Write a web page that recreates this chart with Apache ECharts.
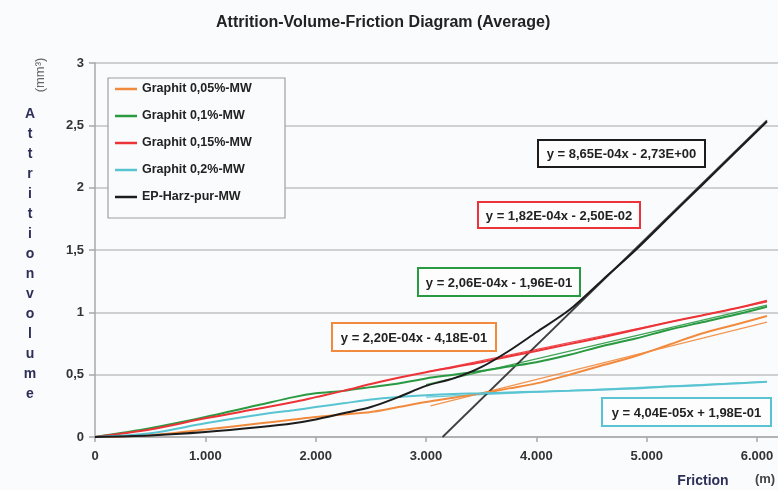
<!DOCTYPE html>
<html>
<head>
<meta charset="utf-8">
<script src="https://cdn.jsdelivr.net/npm/echarts@6/dist/echarts.min.js"></script>
<style>html,body{margin:0;padding:0;background:#fafbfc;}#chart{width:778px;height:490px;}</style>
</head>
<body>
<div id="chart"></div>
<script>
// ---- data ----
const frictionX = [0, 500, 1000, 1500, 1800, 2000, 2250, 2500, 2750, 3000, 3250, 3500, 3750, 4000, 4300, 4600, 4900, 5200, 5500, 5800, 6090];
const graphit005 = [0, 0.015, 0.06, 0.11, 0.14, 0.16, 0.18, 0.20, 0.24, 0.28, 0.315, 0.35, 0.39, 0.43, 0.50, 0.575, 0.65, 0.74, 0.83, 0.90, 0.97];
const graphit01  = [0, 0.07, 0.16, 0.26, 0.32, 0.35, 0.37, 0.40, 0.43, 0.47, 0.50, 0.53, 0.565, 0.60, 0.66, 0.73, 0.79, 0.86, 0.92, 0.98, 1.045];
const graphit015 = [0, 0.06, 0.15, 0.23, 0.28, 0.32, 0.37, 0.425, 0.475, 0.52, 0.56, 0.60, 0.645, 0.69, 0.745, 0.80, 0.86, 0.92, 0.975, 1.03, 1.093];
const graphit02  = [0, 0.03, 0.11, 0.18, 0.215, 0.24, 0.27, 0.30, 0.32, 0.335, 0.345, 0.35, 0.357, 0.363, 0.37, 0.38, 0.39, 0.405, 0.415, 0.43, 0.444];
const epHarz     = [0, 0.012, 0.04, 0.08, 0.11, 0.14, 0.19, 0.24, 0.32, 0.41, 0.47, 0.56, 0.69, 0.84, 1.02, 1.26, 1.50, 1.76, 2.02, 2.28, 2.53];

const trendX005 = [3040, 6090], trendY005 = [0.25, 0.922];
const trendX01  = [3000, 6090], trendY01  = [0.42, 1.058];
const trendX015 = [3000, 6090], trendY015 = [0.52, 1.083];
const trendX02  = [3000, 6090], trendY02  = [0.32, 0.444];
const trendXEP  = [3150, 6090], trendYEP  = [0, 2.54];

const seriesNames = ['Graphit 0,05%-MW', 'Graphit 0,1%-MW', 'Graphit 0,15%-MW', 'Graphit 0,2%-MW', 'EP-Harz-pur-MW'];
const equations = ['y = 2,20E-04x - 4,18E-01', 'y = 2,06E-04x - 1,96E-01', 'y = 1,82E-04x - 2,50E-02', 'y = 4,04E-05x + 1,98E-01', 'y = 8,65E-04x - 2,73E+00'];
const xTickValues = [0, 1000, 2000, 3000, 4000, 5000, 6000];
const titleText = 'Attrition-Volume-Friction Diagram (Average)';
const yNameText = 'Attritionvolume';
const yUnitText = '(mm³)';
const xNameText = 'Friction';
const xUnitText = '(m)';

// ---- styling ----
const colors = ['#f28a3e', '#2a9a42', '#ec3438', '#58c4d2', '#1c1c1c'];
const FONT = 'Liberation Sans, Arial, sans-serif';
const pairs = (xs, ys) => xs.map((x, i) => [x, ys[i]]);
const mainData = [graphit005, graphit01, graphit015, graphit02, epHarz];
const trends = [[trendX005, trendY005], [trendX01, trendY01], [trendX015, trendY015], [trendX02, trendY02], [trendXEP, trendYEP]];

const series = [];
mainData.forEach((d, i) => {
  series.push({
    name: seriesNames[i], type: 'line', data: pairs(frictionX, d), symbol: 'none',
    smooth: 0.3, lineStyle: { color: colors[i], width: 2 }, itemStyle: { color: colors[i] }, z: 3
  });
});
trends.forEach((t, i) => {
  series.push({
    name: 'trend' + i, type: 'line', data: pairs(t[0], t[1]), symbol: 'none',
    lineStyle: { color: i === 4 ? '#2a2a2a' : colors[i], width: i === 4 ? 1.8 : 1.2, opacity: 0.9 }, z: 2, silent: true
  });
});

// equation boxes: [left, top, width, height]
const boxes = [[332, 323, 164, 28], [418, 268, 162, 28], [478, 202, 162, 26], [602, 398, 169, 28], [538, 140, 167, 27]];
const graphics = [];
graphics.push({ type: 'rect', z: 10, shape: { x: 108, y: 78, width: 177, height: 140 }, style: { fill: '#fafbfc', stroke: '#a0a0a0', lineWidth: 1.2 } });
boxes.forEach((b, i) => {
  graphics.push({ type: 'rect', z: 20, shape: { x: b[0], y: b[1], width: b[2], height: b[3] }, style: { fill: '#fdfdfd', stroke: colors[i], lineWidth: 2 } });
  graphics.push({ type: 'text', z: 21, style: { x: b[0] + b[2] / 2, y: b[1] + b[3] / 2 + 1, text: equations[i], align: 'center', verticalAlign: 'middle', font: 'bold 13px ' + FONT, fill: '#222' } });
});
graphics.push({ type: 'text', z: 20, style: { x: 30, y: 104, text: yNameText.split('').join('\n'), align: 'center', verticalAlign: 'top', lineHeight: 20, font: 'bold 14px ' + FONT, fill: '#2d2f58' } });
graphics.push({ type: 'text', z: 20, x: 40, y: 75, rotation: Math.PI / 2, style: { x: 0, y: 0, text: yUnitText, align: 'center', verticalAlign: 'middle', font: '13px ' + FONT, fill: '#666' } });
graphics.push({ type: 'text', z: 20, style: { x: 703, y: 481, text: xNameText, align: 'center', verticalAlign: 'middle', font: 'bold 14px ' + FONT, fill: '#2d2f58' } });
graphics.push({ type: 'text', z: 20, style: { x: 765, y: 479, text: xUnitText, align: 'center', verticalAlign: 'middle', font: 'bold 13px ' + FONT, fill: '#444' } });

const chart = echarts.init(document.getElementById('chart'), null, { renderer: 'canvas' });
chart.setOption({
  backgroundColor: '#fafbfc',
  animation: false,
  title: { text: titleText, left: 211, top: 10, textStyle: { fontFamily: FONT, fontSize: 16, fontWeight: 'bold', color: '#222' } },
  grid: { left: 95, right: 0, top: 63, bottom: 53 },
  legend: {
    orient: 'vertical', left: 115, top: 82, padding: 0, icon: 'rect', itemWidth: 22, itemHeight: 2.5, itemGap: 13, z: 12,
    data: seriesNames, textStyle: { fontFamily: FONT, fontSize: 12.5, lineHeight: 14, fontWeight: 'bold', color: '#222' }
  },
  xAxis: {
    type: 'value', min: 0, max: 6190,
    axisLine: { show: true, lineStyle: { color: '#a8a8a8', width: 1.5 } },
    axisTick: { show: true, length: 5, customValues: xTickValues, lineStyle: { color: '#a8a8a8', width: 1.5 } },
    axisLabel: {
      customValues: xTickValues, margin: 13, fontFamily: FONT, fontSize: 13, fontWeight: 'bold', color: '#333',
      formatter: v => (v % 1000 !== 0 ? '' : (v === 0 ? '0' : (v / 1000) + '.000'))
    },
    splitLine: { show: false }
  },
  yAxis: {
    type: 'value', min: 0, max: 3, interval: 0.5,
    axisLine: { show: true, lineStyle: { color: '#a8a8a8', width: 1.5 } },
    axisTick: { show: true, length: 6, lineStyle: { color: '#a8a8a8', width: 1.5 } },
    axisLabel: { margin: 11, fontFamily: FONT, fontSize: 13, fontWeight: 'bold', color: '#333', formatter: v => String(v).replace('.', ',') },
    splitLine: { lineStyle: { color: '#c2c2c2', width: 1.5 } }
  },
  graphic: graphics,
  series: series
});
</script>
</body>
</html>
